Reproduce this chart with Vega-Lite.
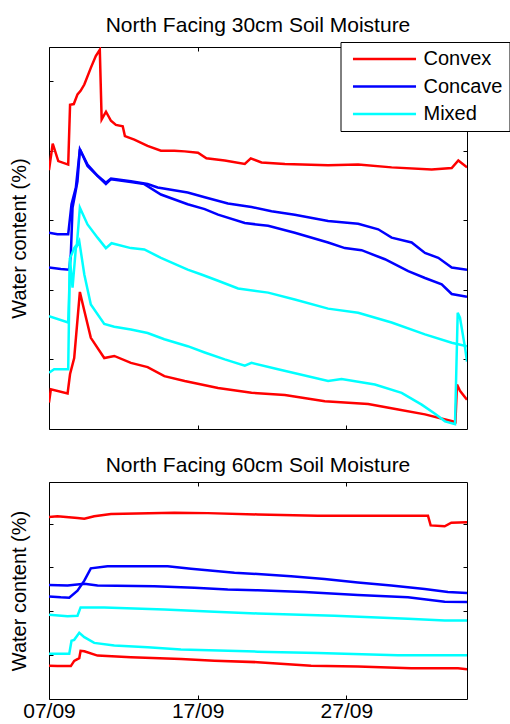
{
"$schema": "https://vega.github.io/schema/vega-lite/v6.json",
"autosize": {"type": "pad"},
"padding": {"left": 9, "top": 14, "right": 0, "bottom": 0},
"config": {
  "font": "Liberation Sans",
  "view": {"stroke": "#000", "strokeWidth": 1},
  "axis": {"grid": false, "domain": false, "tickColor": "#000", "tickSize": -4, "tickWidth": 1, "labelColor": "#000", "labelFontSize": 21, "labelFont": "Liberation Sans", "titleFont": "Liberation Sans", "titleFontSize": 20, "titleFontWeight": "normal", "titleColor": "#000"},
  "title": {"fontSize": 21, "fontWeight": "normal", "color": "#000", "font": "Liberation Sans", "offset": 6, "baseline": "alphabetic"},
  "concat": {"spacing": 24}
},
"datasets": {
"d30": [
{"t":"2009-09-07T00:00","v":3.72,"type":"Convex","s":"Convex 1"},
{"t":"2009-09-07T06:00","v":4.10,"type":"Convex","s":"Convex 1"},
{"t":"2009-09-07T15:00","v":3.85,"type":"Convex","s":"Convex 1"},
{"t":"2009-09-08T07:00","v":3.80,"type":"Convex","s":"Convex 1"},
{"t":"2009-09-08T10:00","v":4.66,"type":"Convex","s":"Convex 1"},
{"t":"2009-09-08T16:00","v":4.67,"type":"Convex","s":"Convex 1"},
{"t":"2009-09-08T22:00","v":4.81,"type":"Convex","s":"Convex 1"},
{"t":"2009-09-09T03:00","v":4.86,"type":"Convex","s":"Convex 1"},
{"t":"2009-09-09T09:00","v":4.95,"type":"Convex","s":"Convex 1"},
{"t":"2009-09-09T19:30","v":5.19,"type":"Convex","s":"Convex 1"},
{"t":"2009-09-10T03:30","v":5.36,"type":"Convex","s":"Convex 1"},
{"t":"2009-09-10T10:00","v":5.45,"type":"Convex","s":"Convex 1"},
{"t":"2009-09-10T13:00","v":4.45,"type":"Convex","s":"Convex 1"},
{"t":"2009-09-10T20:00","v":4.56,"type":"Convex","s":"Convex 1"},
{"t":"2009-09-11T04:00","v":4.43,"type":"Convex","s":"Convex 1"},
{"t":"2009-09-11T12:00","v":4.37,"type":"Convex","s":"Convex 1"},
{"t":"2009-09-11T23:00","v":4.35,"type":"Convex","s":"Convex 1"},
{"t":"2009-09-12T02:30","v":4.21,"type":"Convex","s":"Convex 1"},
{"t":"2009-09-12T17:45","v":4.16,"type":"Convex","s":"Convex 1"},
{"t":"2009-09-13T15:00","v":4.07,"type":"Convex","s":"Convex 1"},
{"t":"2009-09-14T12:40","v":4.00,"type":"Convex","s":"Convex 1"},
{"t":"2009-09-15T10:20","v":4.00,"type":"Convex","s":"Convex 1"},
{"t":"2009-09-16T03:00","v":3.99,"type":"Convex","s":"Convex 1"},
{"t":"2009-09-17T00:30","v":3.97,"type":"Convex","s":"Convex 1"},
{"t":"2009-09-17T14:00","v":3.89,"type":"Convex","s":"Convex 1"},
{"t":"2009-09-18T19:40","v":3.86,"type":"Convex","s":"Convex 1"},
{"t":"2009-09-20T04:00","v":3.81,"type":"Convex","s":"Convex 1"},
{"t":"2009-09-20T13:40","v":3.89,"type":"Convex","s":"Convex 1"},
{"t":"2009-09-21T07:00","v":3.83,"type":"Convex","s":"Convex 1"},
{"t":"2009-09-22T20:40","v":3.81,"type":"Convex","s":"Convex 1"},
{"t":"2009-09-25T18:30","v":3.79,"type":"Convex","s":"Convex 1"},
{"t":"2009-09-27T19:00","v":3.80,"type":"Convex","s":"Convex 1"},
{"t":"2009-09-30T01:00","v":3.76,"type":"Convex","s":"Convex 1"},
{"t":"2009-10-02T17:40","v":3.73,"type":"Convex","s":"Convex 1"},
{"t":"2009-10-04T02:00","v":3.75,"type":"Convex","s":"Convex 1"},
{"t":"2009-10-04T12:40","v":3.86,"type":"Convex","s":"Convex 1"},
{"t":"2009-10-05T02:40","v":3.76,"type":"Convex","s":"Convex 1"},
{"t":"2009-09-07T00:00","v":0.38,"type":"Convex","s":"Convex 2"},
{"t":"2009-09-07T03:00","v":0.57,"type":"Convex","s":"Convex 2"},
{"t":"2009-09-08T06:00","v":0.51,"type":"Convex","s":"Convex 2"},
{"t":"2009-09-08T10:00","v":0.79,"type":"Convex","s":"Convex 2"},
{"t":"2009-09-08T16:40","v":1.02,"type":"Convex","s":"Convex 2"},
{"t":"2009-09-09T01:50","v":1.97,"type":"Convex","s":"Convex 2"},
{"t":"2009-09-09T09:00","v":1.70,"type":"Convex","s":"Convex 2"},
{"t":"2009-09-09T19:30","v":1.31,"type":"Convex","s":"Convex 2"},
{"t":"2009-09-10T17:10","v":1.02,"type":"Convex","s":"Convex 2"},
{"t":"2009-09-11T09:20","v":1.05,"type":"Convex","s":"Convex 2"},
{"t":"2009-09-12T12:10","v":0.95,"type":"Convex","s":"Convex 2"},
{"t":"2009-09-13T15:10","v":0.89,"type":"Convex","s":"Convex 2"},
{"t":"2009-09-14T18:10","v":0.76,"type":"Convex","s":"Convex 2"},
{"t":"2009-09-16T03:00","v":0.69,"type":"Convex","s":"Convex 2"},
{"t":"2009-09-18T08:50","v":0.59,"type":"Convex","s":"Convex 2"},
{"t":"2009-09-20T14:50","v":0.52,"type":"Convex","s":"Convex 2"},
{"t":"2009-09-22T20:40","v":0.49,"type":"Convex","s":"Convex 2"},
{"t":"2009-09-25T13:10","v":0.40,"type":"Convex","s":"Convex 2"},
{"t":"2009-09-28T11:10","v":0.36,"type":"Convex","s":"Convex 2"},
{"t":"2009-09-30T11:40","v":0.28,"type":"Convex","s":"Convex 2"},
{"t":"2009-10-02T06:50","v":0.21,"type":"Convex","s":"Convex 2"},
{"t":"2009-10-04T08:00","v":0.10,"type":"Convex","s":"Convex 2"},
{"t":"2009-10-04T10:30","v":0.64,"type":"Convex","s":"Convex 2"},
{"t":"2009-10-04T15:20","v":0.55,"type":"Convex","s":"Convex 2"},
{"t":"2009-10-05T02:40","v":0.42,"type":"Convex","s":"Convex 2"},
{"t":"2009-09-07T00:00","v":2.82,"type":"Concave","s":"Concave 1"},
{"t":"2009-09-07T13:40","v":2.80,"type":"Concave","s":"Concave 1"},
{"t":"2009-09-08T07:00","v":2.80,"type":"Concave","s":"Concave 1"},
{"t":"2009-09-08T12:20","v":3.23,"type":"Concave","s":"Concave 1"},
{"t":"2009-09-08T19:20","v":3.47,"type":"Concave","s":"Concave 1"},
{"t":"2009-09-09T01:50","v":4.02,"type":"Concave","s":"Concave 1"},
{"t":"2009-09-09T14:10","v":3.80,"type":"Concave","s":"Concave 1"},
{"t":"2009-09-10T06:20","v":3.64,"type":"Concave","s":"Concave 1"},
{"t":"2009-09-10T19:50","v":3.54,"type":"Concave","s":"Concave 1"},
{"t":"2009-09-11T04:00","v":3.60,"type":"Concave","s":"Concave 1"},
{"t":"2009-09-12T12:10","v":3.56,"type":"Concave","s":"Concave 1"},
{"t":"2009-09-13T15:10","v":3.52,"type":"Concave","s":"Concave 1"},
{"t":"2009-09-14T07:20","v":3.47,"type":"Concave","s":"Concave 1"},
{"t":"2009-09-16T07:50","v":3.40,"type":"Concave","s":"Concave 1"},
{"t":"2009-09-17T11:20","v":3.33,"type":"Concave","s":"Concave 1"},
{"t":"2009-09-19T00:50","v":3.24,"type":"Concave","s":"Concave 1"},
{"t":"2009-09-20T14:50","v":3.19,"type":"Concave","s":"Concave 1"},
{"t":"2009-09-21T23:10","v":3.13,"type":"Concave","s":"Concave 1"},
{"t":"2009-09-23T12:40","v":3.08,"type":"Concave","s":"Concave 1"},
{"t":"2009-09-25T18:30","v":2.99,"type":"Concave","s":"Concave 1"},
{"t":"2009-09-27T19:00","v":2.95,"type":"Concave","s":"Concave 1"},
{"t":"2009-09-29T03:20","v":2.87,"type":"Concave","s":"Concave 1"},
{"t":"2009-09-30T01:00","v":2.75,"type":"Concave","s":"Concave 1"},
{"t":"2009-10-01T09:20","v":2.68,"type":"Concave","s":"Concave 1"},
{"t":"2009-10-02T06:50","v":2.53,"type":"Concave","s":"Concave 1"},
{"t":"2009-10-03T04:20","v":2.46,"type":"Concave","s":"Concave 1"},
{"t":"2009-10-04T02:00","v":2.32,"type":"Concave","s":"Concave 1"},
{"t":"2009-10-05T02:40","v":2.29,"type":"Concave","s":"Concave 1"},
{"t":"2009-09-07T00:00","v":2.32,"type":"Concave","s":"Concave 2"},
{"t":"2009-09-07T19:00","v":2.30,"type":"Concave","s":"Concave 2"},
{"t":"2009-09-08T08:40","v":2.29,"type":"Concave","s":"Concave 2"},
{"t":"2009-09-08T11:15","v":2.51,"type":"Concave","s":"Concave 2"},
{"t":"2009-09-08T14:00","v":3.18,"type":"Concave","s":"Concave 2"},
{"t":"2009-09-08T22:00","v":3.56,"type":"Concave","s":"Concave 2"},
{"t":"2009-09-09T01:50","v":4.02,"type":"Concave","s":"Concave 2"},
{"t":"2009-09-09T14:10","v":3.78,"type":"Concave","s":"Concave 2"},
{"t":"2009-09-10T11:40","v":3.59,"type":"Concave","s":"Concave 2"},
{"t":"2009-09-10T19:50","v":3.52,"type":"Concave","s":"Concave 2"},
{"t":"2009-09-11T04:00","v":3.59,"type":"Concave","s":"Concave 2"},
{"t":"2009-09-12T12:10","v":3.55,"type":"Concave","s":"Concave 2"},
{"t":"2009-09-13T09:50","v":3.52,"type":"Concave","s":"Concave 2"},
{"t":"2009-09-14T12:40","v":3.37,"type":"Concave","s":"Concave 2"},
{"t":"2009-09-16T07:50","v":3.23,"type":"Concave","s":"Concave 2"},
{"t":"2009-09-17T11:20","v":3.16,"type":"Concave","s":"Concave 2"},
{"t":"2009-09-18T08:50","v":3.08,"type":"Concave","s":"Concave 2"},
{"t":"2009-09-20T04:00","v":2.96,"type":"Concave","s":"Concave 2"},
{"t":"2009-09-21T17:40","v":2.92,"type":"Concave","s":"Concave 2"},
{"t":"2009-09-23T12:40","v":2.82,"type":"Concave","s":"Concave 2"},
{"t":"2009-09-25T18:30","v":2.68,"type":"Concave","s":"Concave 2"},
{"t":"2009-09-26T21:30","v":2.60,"type":"Concave","s":"Concave 2"},
{"t":"2009-09-28T00:30","v":2.57,"type":"Concave","s":"Concave 2"},
{"t":"2009-09-29T14:10","v":2.44,"type":"Concave","s":"Concave 2"},
{"t":"2009-10-01T03:50","v":2.27,"type":"Concave","s":"Concave 2"},
{"t":"2009-10-02T06:50","v":2.17,"type":"Concave","s":"Concave 2"},
{"t":"2009-10-03T09:50","v":2.08,"type":"Concave","s":"Concave 2"},
{"t":"2009-10-04T02:00","v":1.94,"type":"Concave","s":"Concave 2"},
{"t":"2009-10-05T02:40","v":1.90,"type":"Concave","s":"Concave 2"},
{"t":"2009-09-07T00:00","v":1.62,"type":"Mixed","s":"Mixed 1"},
{"t":"2009-09-08T07:00","v":1.53,"type":"Mixed","s":"Mixed 1"},
{"t":"2009-09-08T10:20","v":2.46,"type":"Mixed","s":"Mixed 1"},
{"t":"2009-09-08T16:40","v":2.60,"type":"Mixed","s":"Mixed 1"},
{"t":"2009-09-08T21:00","v":2.65,"type":"Mixed","s":"Mixed 1"},
{"t":"2009-09-09T01:50","v":3.18,"type":"Mixed","s":"Mixed 1"},
{"t":"2009-09-09T14:10","v":2.94,"type":"Mixed","s":"Mixed 1"},
{"t":"2009-09-10T06:20","v":2.75,"type":"Mixed","s":"Mixed 1"},
{"t":"2009-09-10T19:50","v":2.60,"type":"Mixed","s":"Mixed 1"},
{"t":"2009-09-11T05:00","v":2.67,"type":"Mixed","s":"Mixed 1"},
{"t":"2009-09-12T12:10","v":2.60,"type":"Mixed","s":"Mixed 1"},
{"t":"2009-09-13T09:50","v":2.58,"type":"Mixed","s":"Mixed 1"},
{"t":"2009-09-14T12:40","v":2.46,"type":"Mixed","s":"Mixed 1"},
{"t":"2009-09-16T07:50","v":2.29,"type":"Mixed","s":"Mixed 1"},
{"t":"2009-09-17T06:00","v":2.22,"type":"Mixed","s":"Mixed 1"},
{"t":"2009-09-18T08:50","v":2.13,"type":"Mixed","s":"Mixed 1"},
{"t":"2009-09-19T17:10","v":2.02,"type":"Mixed","s":"Mixed 1"},
{"t":"2009-09-21T17:40","v":1.96,"type":"Mixed","s":"Mixed 1"},
{"t":"2009-09-23T12:40","v":1.86,"type":"Mixed","s":"Mixed 1"},
{"t":"2009-09-25T18:30","v":1.73,"type":"Mixed","s":"Mixed 1"},
{"t":"2009-09-27T19:00","v":1.67,"type":"Mixed","s":"Mixed 1"},
{"t":"2009-09-30T01:00","v":1.53,"type":"Mixed","s":"Mixed 1"},
{"t":"2009-10-02T06:50","v":1.36,"type":"Mixed","s":"Mixed 1"},
{"t":"2009-10-04T02:00","v":1.24,"type":"Mixed","s":"Mixed 1"},
{"t":"2009-10-05T02:40","v":1.19,"type":"Mixed","s":"Mixed 1"},
{"t":"2009-09-07T00:00","v":0.81,"type":"Mixed","s":"Mixed 2"},
{"t":"2009-09-07T08:20","v":0.86,"type":"Mixed","s":"Mixed 2"},
{"t":"2009-09-08T07:00","v":0.86,"type":"Mixed","s":"Mixed 2"},
{"t":"2009-09-08T09:40","v":2.46,"type":"Mixed","s":"Mixed 2"},
{"t":"2009-09-08T14:00","v":2.03,"type":"Mixed","s":"Mixed 2"},
{"t":"2009-09-08T19:20","v":2.60,"type":"Mixed","s":"Mixed 2"},
{"t":"2009-09-09T00:50","v":2.70,"type":"Mixed","s":"Mixed 2"},
{"t":"2009-09-09T09:00","v":2.22,"type":"Mixed","s":"Mixed 2"},
{"t":"2009-09-09T19:30","v":1.79,"type":"Mixed","s":"Mixed 2"},
{"t":"2009-09-10T17:10","v":1.51,"type":"Mixed","s":"Mixed 2"},
{"t":"2009-09-11T09:20","v":1.47,"type":"Mixed","s":"Mixed 2"},
{"t":"2009-09-12T12:10","v":1.43,"type":"Mixed","s":"Mixed 2"},
{"t":"2009-09-13T15:10","v":1.38,"type":"Mixed","s":"Mixed 2"},
{"t":"2009-09-14T18:10","v":1.29,"type":"Mixed","s":"Mixed 2"},
{"t":"2009-09-16T07:50","v":1.19,"type":"Mixed","s":"Mixed 2"},
{"t":"2009-09-17T11:20","v":1.10,"type":"Mixed","s":"Mixed 2"},
{"t":"2009-09-18T19:40","v":1.00,"type":"Mixed","s":"Mixed 2"},
{"t":"2009-09-20T04:00","v":0.91,"type":"Mixed","s":"Mixed 2"},
{"t":"2009-09-20T14:50","v":0.95,"type":"Mixed","s":"Mixed 2"},
{"t":"2009-09-22T09:40","v":0.86,"type":"Mixed","s":"Mixed 2"},
{"t":"2009-09-25T18:30","v":0.69,"type":"Mixed","s":"Mixed 2"},
{"t":"2009-09-26T16:10","v":0.72,"type":"Mixed","s":"Mixed 2"},
{"t":"2009-09-28T22:00","v":0.64,"type":"Mixed","s":"Mixed 2"},
{"t":"2009-09-30T17:10","v":0.52,"type":"Mixed","s":"Mixed 2"},
{"t":"2009-10-02T01:30","v":0.35,"type":"Mixed","s":"Mixed 2"},
{"t":"2009-10-02T23:00","v":0.22,"type":"Mixed","s":"Mixed 2"},
{"t":"2009-10-03T15:10","v":0.11,"type":"Mixed","s":"Mixed 2"},
{"t":"2009-10-04T07:20","v":0.07,"type":"Mixed","s":"Mixed 2"},
{"t":"2009-10-04T11:40","v":1.67,"type":"Mixed","s":"Mixed 2"},
{"t":"2009-10-04T15:20","v":1.60,"type":"Mixed","s":"Mixed 2"},
{"t":"2009-10-04T23:30","v":1.17,"type":"Mixed","s":"Mixed 2"},
{"t":"2009-10-05T02:40","v":0.97,"type":"Mixed","s":"Mixed 2"}
],
"d60": [
{"t":"2009-09-07T00:00","v":4.15,"type":"Convex","s":"Convex 1"},
{"t":"2009-09-07T13:40","v":4.17,"type":"Convex","s":"Convex 1"},
{"t":"2009-09-08T22:00","v":4.13,"type":"Convex","s":"Convex 1"},
{"t":"2009-09-09T09:00","v":4.11,"type":"Convex","s":"Convex 1"},
{"t":"2009-09-10T01:00","v":4.17,"type":"Convex","s":"Convex 1"},
{"t":"2009-09-11T04:00","v":4.22,"type":"Convex","s":"Convex 1"},
{"t":"2009-09-15T10:20","v":4.25,"type":"Convex","s":"Convex 1"},
{"t":"2009-09-17T16:10","v":4.24,"type":"Convex","s":"Convex 1"},
{"t":"2009-09-21T00:50","v":4.21,"type":"Convex","s":"Convex 1"},
{"t":"2009-09-25T01:50","v":4.18,"type":"Convex","s":"Convex 1"},
{"t":"2009-10-02T11:40","v":4.18,"type":"Convex","s":"Convex 1"},
{"t":"2009-10-02T16:00","v":3.96,"type":"Convex","s":"Convex 1"},
{"t":"2009-10-03T14:40","v":3.94,"type":"Convex","s":"Convex 1"},
{"t":"2009-10-04T01:20","v":4.02,"type":"Convex","s":"Convex 1"},
{"t":"2009-10-05T02:40","v":4.03,"type":"Convex","s":"Convex 1"},
{"t":"2009-09-07T00:00","v":0.76,"type":"Convex","s":"Convex 2"},
{"t":"2009-09-07T13:40","v":0.75,"type":"Convex","s":"Convex 2"},
{"t":"2009-09-08T11:15","v":0.75,"type":"Convex","s":"Convex 2"},
{"t":"2009-09-08T16:40","v":0.87,"type":"Convex","s":"Convex 2"},
{"t":"2009-09-09T00:50","v":0.93,"type":"Convex","s":"Convex 2"},
{"t":"2009-09-09T03:00","v":1.10,"type":"Convex","s":"Convex 2"},
{"t":"2009-09-09T09:00","v":1.09,"type":"Convex","s":"Convex 2"},
{"t":"2009-09-10T06:20","v":0.99,"type":"Convex","s":"Convex 2"},
{"t":"2009-09-12T12:10","v":0.95,"type":"Convex","s":"Convex 2"},
{"t":"2009-09-15T21:00","v":0.91,"type":"Convex","s":"Convex 2"},
{"t":"2009-09-18T03:00","v":0.87,"type":"Convex","s":"Convex 2"},
{"t":"2009-09-21T00:50","v":0.84,"type":"Convex","s":"Convex 2"},
{"t":"2009-09-24T15:00","v":0.76,"type":"Convex","s":"Convex 2"},
{"t":"2009-09-27T18:30","v":0.74,"type":"Convex","s":"Convex 2"},
{"t":"2009-10-01T08:40","v":0.70,"type":"Convex","s":"Convex 2"},
{"t":"2009-10-04T12:10","v":0.70,"type":"Convex","s":"Convex 2"},
{"t":"2009-10-05T02:40","v":0.68,"type":"Convex","s":"Convex 2"},
{"t":"2009-09-07T00:00","v":2.34,"type":"Concave","s":"Concave 1"},
{"t":"2009-09-07T19:00","v":2.32,"type":"Concave","s":"Concave 1"},
{"t":"2009-09-08T08:40","v":2.31,"type":"Concave","s":"Concave 1"},
{"t":"2009-09-08T22:00","v":2.47,"type":"Concave","s":"Concave 1"},
{"t":"2009-09-09T09:00","v":2.70,"type":"Concave","s":"Concave 1"},
{"t":"2009-09-09T19:30","v":2.98,"type":"Concave","s":"Concave 1"},
{"t":"2009-09-10T22:30","v":3.03,"type":"Concave","s":"Concave 1"},
{"t":"2009-09-14T23:30","v":3.03,"type":"Concave","s":"Concave 1"},
{"t":"2009-09-16T13:10","v":2.97,"type":"Concave","s":"Concave 1"},
{"t":"2009-09-19T11:20","v":2.88,"type":"Concave","s":"Concave 1"},
{"t":"2009-09-21T00:50","v":2.85,"type":"Concave","s":"Concave 1"},
{"t":"2009-09-23T06:40","v":2.80,"type":"Concave","s":"Concave 1"},
{"t":"2009-09-25T12:40","v":2.74,"type":"Concave","s":"Concave 1"},
{"t":"2009-09-27T18:30","v":2.66,"type":"Concave","s":"Concave 1"},
{"t":"2009-09-30T00:20","v":2.59,"type":"Concave","s":"Concave 1"},
{"t":"2009-10-02T06:20","v":2.51,"type":"Concave","s":"Concave 1"},
{"t":"2009-10-03T19:50","v":2.44,"type":"Concave","s":"Concave 1"},
{"t":"2009-10-05T02:40","v":2.42,"type":"Concave","s":"Concave 1"},
{"t":"2009-09-07T00:00","v":2.60,"type":"Concave","s":"Concave 2"},
{"t":"2009-09-08T06:00","v":2.59,"type":"Concave","s":"Concave 2"},
{"t":"2009-09-09T09:00","v":2.63,"type":"Concave","s":"Concave 2"},
{"t":"2009-09-10T06:20","v":2.59,"type":"Concave","s":"Concave 2"},
{"t":"2009-09-14T02:00","v":2.57,"type":"Concave","s":"Concave 2"},
{"t":"2009-09-16T18:40","v":2.54,"type":"Concave","s":"Concave 2"},
{"t":"2009-09-19T00:30","v":2.50,"type":"Concave","s":"Concave 2"},
{"t":"2009-09-21T00:50","v":2.48,"type":"Concave","s":"Concave 2"},
{"t":"2009-09-24T04:20","v":2.44,"type":"Concave","s":"Concave 2"},
{"t":"2009-09-27T18:30","v":2.37,"type":"Concave","s":"Concave 2"},
{"t":"2009-10-01T03:20","v":2.32,"type":"Concave","s":"Concave 2"},
{"t":"2009-10-03T14:40","v":2.22,"type":"Concave","s":"Concave 2"},
{"t":"2009-10-05T02:40","v":2.21,"type":"Concave","s":"Concave 2"},
{"t":"2009-09-07T00:00","v":1.92,"type":"Mixed","s":"Mixed 1"},
{"t":"2009-09-08T06:00","v":1.89,"type":"Mixed","s":"Mixed 1"},
{"t":"2009-09-08T22:00","v":1.90,"type":"Mixed","s":"Mixed 1"},
{"t":"2009-09-09T03:00","v":2.09,"type":"Mixed","s":"Mixed 1"},
{"t":"2009-09-10T17:10","v":2.09,"type":"Mixed","s":"Mixed 1"},
{"t":"2009-09-14T18:10","v":2.04,"type":"Mixed","s":"Mixed 1"},
{"t":"2009-09-18T03:00","v":1.99,"type":"Mixed","s":"Mixed 1"},
{"t":"2009-09-21T00:50","v":1.95,"type":"Mixed","s":"Mixed 1"},
{"t":"2009-09-26T04:50","v":1.90,"type":"Mixed","s":"Mixed 1"},
{"t":"2009-10-01T03:20","v":1.83,"type":"Mixed","s":"Mixed 1"},
{"t":"2009-10-03T14:40","v":1.79,"type":"Mixed","s":"Mixed 1"},
{"t":"2009-10-05T02:40","v":1.79,"type":"Mixed","s":"Mixed 1"},
{"t":"2009-09-07T00:00","v":1.03,"type":"Mixed","s":"Mixed 2"},
{"t":"2009-09-08T08:40","v":1.03,"type":"Mixed","s":"Mixed 2"},
{"t":"2009-09-08T12:20","v":1.33,"type":"Mixed","s":"Mixed 2"},
{"t":"2009-09-08T16:40","v":1.35,"type":"Mixed","s":"Mixed 2"},
{"t":"2009-09-09T00:50","v":1.51,"type":"Mixed","s":"Mixed 2"},
{"t":"2009-09-09T09:00","v":1.41,"type":"Mixed","s":"Mixed 2"},
{"t":"2009-09-10T01:00","v":1.28,"type":"Mixed","s":"Mixed 2"},
{"t":"2009-09-11T09:20","v":1.22,"type":"Mixed","s":"Mixed 2"},
{"t":"2009-09-13T15:10","v":1.18,"type":"Mixed","s":"Mixed 2"},
{"t":"2009-09-15T21:00","v":1.13,"type":"Mixed","s":"Mixed 2"},
{"t":"2009-09-21T00:50","v":1.08,"type":"Mixed","s":"Mixed 2"},
{"t":"2009-09-25T01:50","v":1.05,"type":"Mixed","s":"Mixed 2"},
{"t":"2009-09-30T11:10","v":1.00,"type":"Mixed","s":"Mixed 2"},
{"t":"2009-10-05T02:40","v":1.00,"type":"Mixed","s":"Mixed 2"}
]
},
"resolve": {"legend": {"color": "independent"}},
"vconcat": [
{
  "width": 418, "height": 382,
  "title": "North Facing 30cm Soil Moisture",
  "data": {"name": "d30"},
  "layer": [
    {"mark": {"type": "line", "strokeWidth": 2.5, "clip": true},
     "encoding": {
       "x": {"field": "t", "type": "temporal",
             "scale": {"domain": [{"year": 2009, "month": 9, "date": 7}, {"year": 2009, "month": 10, "date": 5, "hours": 2, "minutes": 40}]},
             "axis": {"orient": "bottom", "values": [{"year": 2009, "month": 9, "date": 7}, {"year": 2009, "month": 9, "date": 17}, {"year": 2009, "month": 9, "date": 27}], "labels": false, "title": null}},
       "y": {"field": "v", "type": "quantitative", "scale": {"domain": [0, 5.49], "nice": false, "zero": false},
             "axis": {"orient": "left", "values": [1, 2, 3, 4, 5], "labels": false, "title": "Water content (%)", "titlePadding": 19}},
       "color": {"field": "type", "type": "nominal",
                 "scale": {"domain": ["Convex", "Concave", "Mixed"], "range": ["#ff0000", "#0000ff", "#00ffff"]},
                 "legend": {"orient": "none", "legendX": 291.5, "legendY": -5, "title": null,
                            "symbolType": "M-5,0L5,0", "symbolSize": 159, "symbolStrokeWidth": 2.5,
                            "symbolOffset": 27, "labelOffset": 29, "labelFontSize": 20, "labelFont": "Liberation Sans", "labelColor": "#000",
                            "padding": 7, "rowPadding": 7.5, "strokeColor": "#000", "fillColor": "#fff", "cornerRadius": 0}},
       "detail": {"field": "s"}
     }},
    {"mark": {"type": "line", "opacity": 0, "clip": true},
     "encoding": {
       "x": {"field": "t", "type": "temporal",
             "scale": {"domain": [{"year": 2009, "month": 9, "date": 7}, {"year": 2009, "month": 10, "date": 5, "hours": 2, "minutes": 40}]},
             "axis": {"orient": "top", "values": [{"year": 2009, "month": 9, "date": 7}, {"year": 2009, "month": 9, "date": 17}, {"year": 2009, "month": 9, "date": 27}], "labels": false, "title": null}},
       "y": {"field": "v", "type": "quantitative", "scale": {"domain": [0, 5.49], "nice": false, "zero": false},
             "axis": {"orient": "right", "values": [1, 2, 3, 4, 5], "labels": false, "title": null}},
       "detail": {"field": "s"}
     }}
  ],
  "resolve": {"axis": {"x": "independent", "y": "independent"}}
},
{
  "width": 418, "height": 217,
  "title": "North Facing 60cm Soil Moisture",
  "data": {"name": "d60"},
  "layer": [
    {"mark": {"type": "line", "strokeWidth": 2.5, "clip": true},
     "encoding": {
       "x": {"field": "t", "type": "temporal",
             "scale": {"domain": [{"year": 2009, "month": 9, "date": 7}, {"year": 2009, "month": 10, "date": 5, "hours": 2, "minutes": 40}]},
             "axis": {"orient": "bottom", "values": [{"year": 2009, "month": 9, "date": 7}, {"year": 2009, "month": 9, "date": 17}, {"year": 2009, "month": 9, "date": 27}], "format": "%d/%m", "labelFlush": false, "labelPadding": 5, "title": null}},
       "y": {"field": "v", "type": "quantitative", "scale": {"domain": [0, 4.95], "nice": false, "zero": false},
             "axis": {"orient": "left", "values": [1, 2, 3, 4], "labels": false, "title": "Water content (%)", "titlePadding": 19}},
       "color": {"field": "type", "type": "nominal",
                 "scale": {"domain": ["Convex", "Concave", "Mixed"], "range": ["#ff0000", "#0000ff", "#00ffff"]},
                 "legend": null},
       "detail": {"field": "s"}
     }},
    {"mark": {"type": "line", "opacity": 0, "clip": true},
     "encoding": {
       "x": {"field": "t", "type": "temporal",
             "scale": {"domain": [{"year": 2009, "month": 9, "date": 7}, {"year": 2009, "month": 10, "date": 5, "hours": 2, "minutes": 40}]},
             "axis": {"orient": "top", "values": [{"year": 2009, "month": 9, "date": 7}, {"year": 2009, "month": 9, "date": 17}, {"year": 2009, "month": 9, "date": 27}], "labels": false, "title": null}},
       "y": {"field": "v", "type": "quantitative", "scale": {"domain": [0, 4.95], "nice": false, "zero": false},
             "axis": {"orient": "right", "values": [1, 2, 3, 4], "labels": false, "title": null}},
       "detail": {"field": "s"}
     }}
  ],
  "resolve": {"axis": {"x": "independent", "y": "independent"}}
}
]
}
